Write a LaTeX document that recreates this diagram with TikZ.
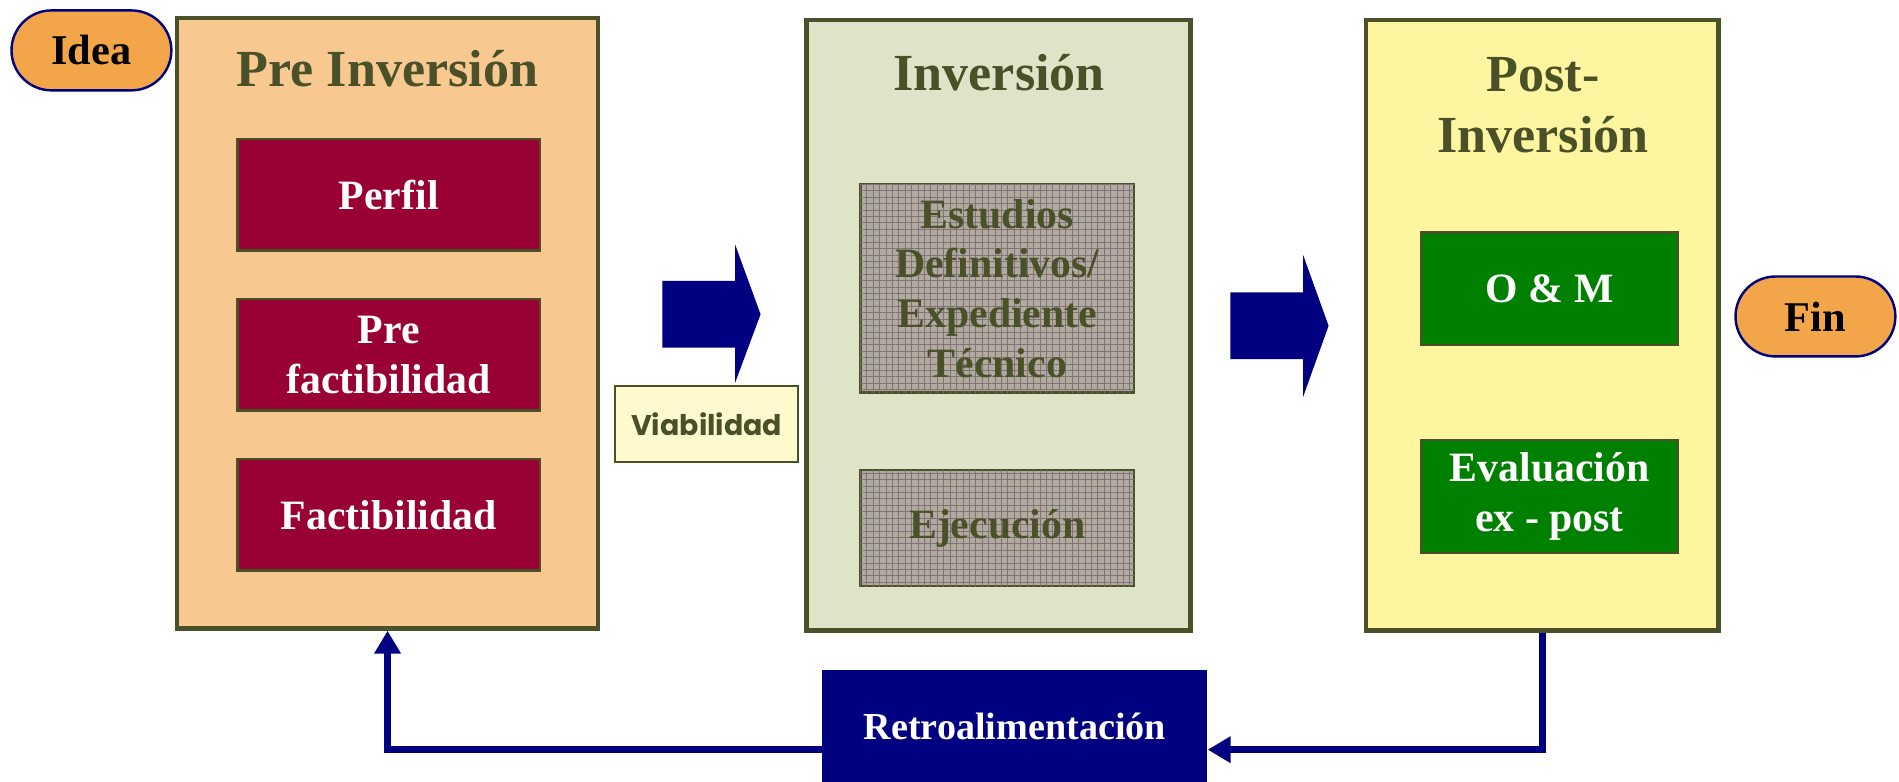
\documentclass[tikz,border=0pt]{standalone}
\usepackage{fontspec}
\setmainfont{Liberation Serif}
\newfontfamily\viabfont{Poppins}
\usetikzlibrary{arrows.meta,patterns.meta}
\definecolor{oliva}{RGB}{74,80,40}
\definecolor{durazno}{RGB}{247,200,144}
\definecolor{salvia}{RGB}{223,228,200}
\definecolor{amarillo}{RGB}{253,245,160}
\definecolor{vino}{RGB}{153,0,51}
\definecolor{verde}{RGB}{0,128,0}
\definecolor{naranja}{RGB}{243,166,73}
\definecolor{marino}{RGB}{0,0,128}
\definecolor{crema}{RGB}{255,250,205}
\definecolor{gris}{RGB}{176,171,158}
\definecolor{grisosc}{RGB}{128,114,120}
\tikzset{
  fase/.style={draw=oliva, line width=3.5pt, minimum width=#1, minimum height=504pt, inner sep=0pt},
  titulo/.style={text=oliva, font=\fontsize{43}{50}\selectfont\bfseries, align=center},
  caja/.style={draw=oliva, line width=2pt, text=white, font=\fontsize{34.5}{41}\selectfont\bfseries,
    align=center, inner sep=0pt},
  trama/.style={caja, fill=gris, text=oliva,
    postaction={pattern={Hatch[angle=0,distance=5.3pt,line width=0.45pt]}, pattern color=grisosc}},
  ovalo/.style={draw=marino, fill=naranja, line width=2pt, rounded corners=33pt, minimum width=132pt,
    minimum height=66pt, font=\fontsize{35}{40}\selectfont\bfseries},
  retro/.style={draw=marino, line width=6pt, -{Triangle[length=19pt,width=21pt]}}
}
\begin{document}
\begin{tikzpicture}[x=1pt, y=-1pt]
\useasboundingbox (0,0) rectangle (1568,645);
\node[ovalo] (idea) at (75.5,41.6) {Idea};
\node[fase=348pt, fill=durazno] (pre) at (320,267) {};
\node[titulo] (pretit) at (320,57) {Pre Inversión};
\node[caja, fill=vino, minimum width=250pt, minimum height=92pt] (perfil) at (321,161) {Perfil};
\node[caja, fill=vino, minimum width=250pt, minimum height=92pt] (prefact) at (321,293) {Pre\\factibilidad};
\node[caja, fill=vino, minimum width=250pt, minimum height=92pt] (fact) at (321,425) {Factibilidad};
\fill[marino] (547,232) -- (607,232) -- (607,202) -- (628,259.5) -- (607,316) -- (607,287) -- (547,287) -- cycle;
\node[draw=oliva, fill=crema, line width=1.5pt, minimum width=151pt, minimum height=63pt, text=oliva,
  font=\viabfont\fontsize{23.5}{26}\selectfont\bfseries] (viab) at (583.5,350) {Viabilidad};
\node[fase=317pt, fill=salvia] (inv) at (824.5,268.5) {};
\node[titulo] (invtit) at (825,60) {Inversión};
\node[trama, minimum width=226pt, minimum height=172pt] (estudios) at (823.5,238) {Estudios\\Definitivos/\\Expediente\\Técnico};
\node[trama, minimum width=226pt, minimum height=96pt] (ejec) at (823.5,436) {Ejecución};
\fill[marino] (1016,241.5) -- (1076,241.5) -- (1076,210.6) -- (1097,269) -- (1076,327.6) -- (1076,296.5) -- (1016,296.5) -- cycle;
\node[fase=291pt, fill=amarillo] (post) at (1273.5,268.5) {};
\node[titulo] (posttit) at (1274,87) {Post-\\Inversión};
\node[caja, fill=verde, minimum width=212pt, minimum height=93pt] (om) at (1279.5,238.5) {O \& M};
\node[caja, fill=verde, minimum width=212pt, minimum height=93pt] (eval) at (1279.5,410) {Evaluación\\ex - post};
\node[ovalo] (fin) at (1499,261.3) {Fin};
\node[fill=marino, text=white, minimum width=318pt, minimum height=94pt,
  font=\fontsize{31.5}{36}\selectfont\bfseries] (retro) at (838,600) {Retroalimentación};
\coordinate (fb) at (0,619);
\draw[retro] (post.south) |- (retro.east |- fb);
\draw[retro] (retro.west |- fb) -| (pre.south);
\end{tikzpicture}
\end{document}
